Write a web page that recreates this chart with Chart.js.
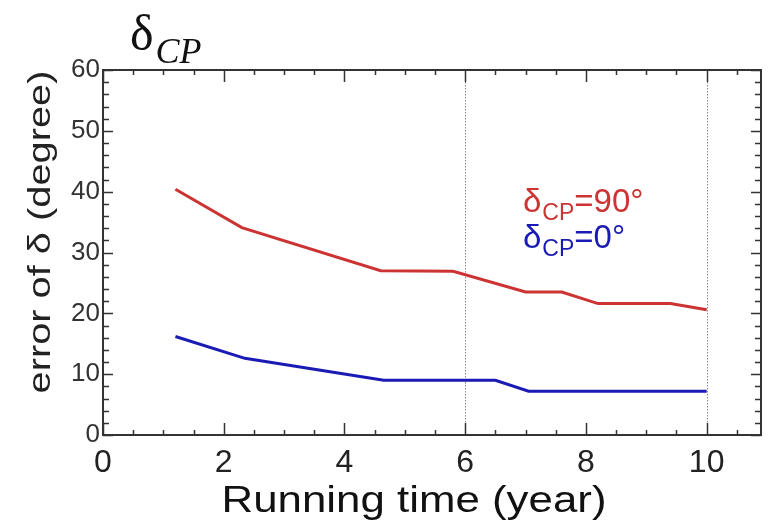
<!DOCTYPE html>
<html><head><meta charset="utf-8">
<script src="https://cdn.jsdelivr.net/npm/chart.js@4.4.1/dist/chart.umd.min.js"></script>
<style>html,body{margin:0;padding:0;background:#fff;}#wrap{width:769px;height:524px;}</style>
</head><body><div id="wrap"><canvas id="c" width="769" height="524"></canvas></div>
<script>
// ---- data ----
const redX = [1.2, 2.3, 4.6, 5.8, 7.0, 7.6, 8.2, 9.4, 10.0];
const redY = [40.4, 34.1, 27.0, 26.9, 23.5, 23.5, 21.6, 21.6, 20.6];
const blueX = [1.2, 2.35, 4.65, 6.5, 7.05, 10.0];
const blueY = [16.2, 12.6, 9.0, 9.0, 7.2, 7.2];
const xTickLabels = [0, 2, 4, 6, 8, 10];
const yTickLabels = [0, 10, 20, 30, 40, 50, 60];
const markerYears = [6, 10];
const seriesNames = ['δCP=90°', 'δCP=0°'];
const legendValues = ['=90°', '=0°'];
const xTitle = 'Running time (year)';
const yTitle = 'error of δ (degree)';

const RED = '#cc3333', BLUE = '#1a1ab4';
const toPts = (xs, ys) => xs.map((v, i) => ({x: v, y: ys[i]}));

// draw text stretched along its direction to a target length
function stretchedText(ctx, txt, cx, cy, base, font, len, rot) {
  ctx.save();
  ctx.font = font;
  const w = ctx.measureText(txt).width;
  ctx.translate(cx, cy);
  ctx.rotate(rot);
  ctx.scale(len / w, 1);
  ctx.textAlign = 'center';
  ctx.textBaseline = 'alphabetic';
  ctx.fillText(txt, 0, base);
  ctx.restore();
}

const decor = {
  id: 'decor',
  beforeDatasetsDraw(chart) {
    const {ctx, chartArea: a, scales: {x}} = chart;
    ctx.save();
    ctx.strokeStyle = '#888'; ctx.lineWidth = 1; ctx.setLineDash([1.5, 1.5]);
    markerYears.forEach(v => {
      const px = Math.round(x.getPixelForValue(v)) + 0.5;
      ctx.beginPath(); ctx.moveTo(px, a.top); ctx.lineTo(px, a.bottom); ctx.stroke();
    });
    ctx.restore();
  },
  afterDraw(chart) {
    const {ctx, chartArea: a, scales: {x, y}} = chart;
    ctx.save();
    ctx.strokeStyle = '#333'; ctx.lineWidth = 1.5;
    for (let v = 0; v <= x.max + 1e-9; v += 0.5) {
      const px = Math.round(x.getPixelForValue(v)) + 0.5;
      const len = (Math.abs(v % 2) < 1e-9) ? 12 : 5;
      ctx.beginPath();
      ctx.moveTo(px, a.bottom); ctx.lineTo(px, a.bottom - len);
      ctx.moveTo(px, a.top); ctx.lineTo(px, a.top + len);
      ctx.stroke();
    }
    for (let v = 0; v <= y.max + 1e-9; v += 2) {
      const py = Math.round(y.getPixelForValue(v)) + 0.5;
      const len = (v % 10 === 0) ? 10 : 6;
      ctx.beginPath();
      ctx.moveTo(a.left, py); ctx.lineTo(a.left + len, py);
      ctx.moveTo(a.right, py); ctx.lineTo(a.right - len, py);
      ctx.stroke();
    }
    ctx.lineWidth = 2; ctx.strokeStyle = '#333';
    ctx.strokeRect(a.left, a.top, a.right - a.left, a.bottom - a.top);

    // axis titles
    ctx.fillStyle = '#111';
    stretchedText(ctx, xTitle, 414, 512, 0, '37px "Liberation Sans"', 385, 0);
    ctx.fillStyle = '#222';
    stretchedText(ctx, yTitle, 50, 232, 0, '31px "Liberation Sans"', 323, -Math.PI / 2);

    // title δ_CP
    ctx.fillStyle = '#111'; ctx.textBaseline = 'alphabetic'; ctx.textAlign = 'left';
    ctx.font = '50px "Liberation Serif"';
    ctx.fillText('δ', 130, 50);
    const dw = ctx.measureText('δ').width;
    ctx.font = 'italic 36px "Liberation Serif"';
    ctx.fillText('CP', 130 + dw + 2, 63);

    const drawLeg = (txt, color, x0, base) => {
      ctx.fillStyle = color;
      ctx.font = '33px "Liberation Sans"';
      ctx.fillText('δ', x0, base);
      let xx = x0 + ctx.measureText('δ').width + 1;
      ctx.font = '23px "Liberation Sans"';
      ctx.fillText('CP', xx, base + 8);
      xx += ctx.measureText('CP').width;
      ctx.font = '33px "Liberation Sans"';
      ctx.fillText(txt, xx, base);
    };
    drawLeg(legendValues[0], RED, 523, 212);
    drawLeg(legendValues[1], BLUE, 523, 248);
    ctx.restore();
  }
};

new Chart(document.getElementById('c'), {
  type: 'scatter',
  data: {
    datasets: [
      {label: seriesNames[0], data: toPts(redX, redY), showLine: true, borderColor: RED, backgroundColor: RED,
       borderWidth: 3, pointRadius: 0, tension: 0},
      {label: seriesNames[1], data: toPts(blueX, blueY), showLine: true, borderColor: BLUE, backgroundColor: BLUE,
       borderWidth: 3, pointRadius: 0, tension: 0}
    ]
  },
  options: {
    responsive: false, animation: false, devicePixelRatio: 1,
    layout: {padding: {top: 70, right: 8, left: 0, bottom: 0}},
    plugins: {legend: {display: false}, tooltip: {enabled: false}},
    scales: {
      x: {
        type: 'linear', min: 0, max: 10.9,
        grid: {display: false, drawTicks: false}, border: {display: false},
        afterBuildTicks: s => { s.ticks = xTickLabels.map(v => ({value: v})); },
        afterFit: s => { s.height = 89; },
        ticks: {padding: 9, color: '#222', font: {family: 'Liberation Sans', size: 32}, maxRotation: 0,
                callback: v => String(v)},
        title: {display: false}
      },
      y: {
        type: 'linear', min: 0, max: 60,
        grid: {display: false, drawTicks: false}, border: {display: false},
        afterBuildTicks: s => { s.ticks = yTickLabels.map(v => ({value: v})); },
        afterFit: s => { s.width = 103; },
        ticks: {padding: 3, color: '#333', font: {family: 'Liberation Sans', size: 26},
                callback: v => String(v)},
        title: {display: false}
      }
    }
  },
  plugins: [decor]
});
</script></body></html>
